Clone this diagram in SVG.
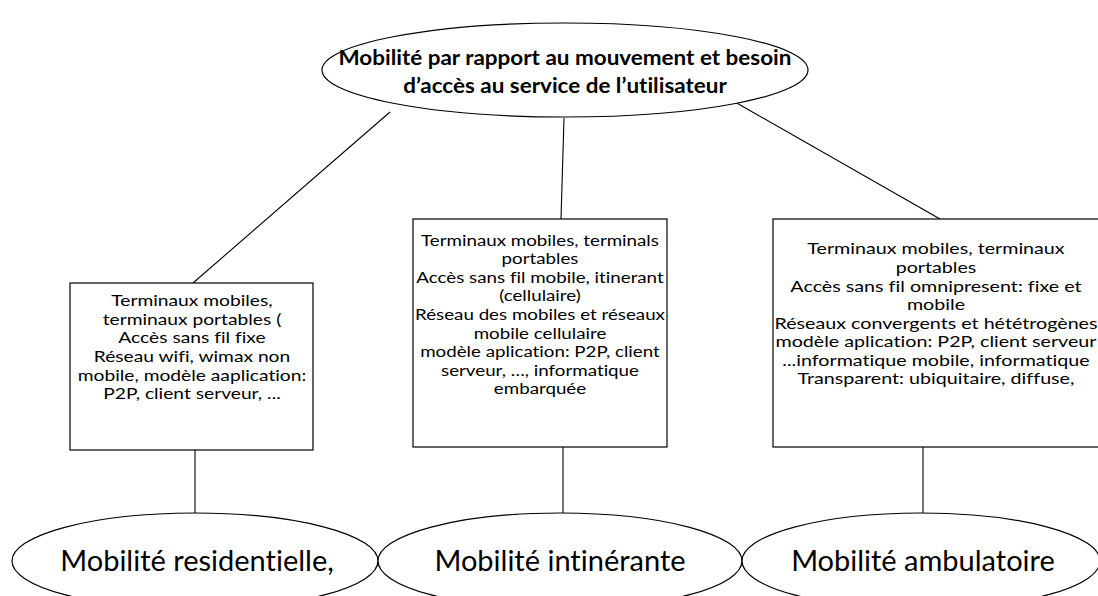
<svg xmlns="http://www.w3.org/2000/svg" width="1098" height="596" viewBox="0 0 1098 596">
<style>
.shape{fill:#fff;stroke:#000;stroke-width:1.2}
.conn line{stroke:#000;stroke-width:1.1}
text{font-variant-ligatures:none}
.t{font-family:Lato,"Open Sans",sans-serif;font-size:15.5px;fill:#000;text-anchor:middle}
.tb{font-family:Lato,"Open Sans",sans-serif;font-size:21px;font-weight:bold;fill:#000;text-anchor:middle}
.tl{font-family:Lato,"Open Sans",sans-serif;font-size:29px;fill:#000;text-anchor:middle}
</style>
<rect width="1098" height="596" fill="#fff"/>
<g id="connectors" class="conn">
<line x1="390" y1="112" x2="193" y2="283"/>
<line x1="564" y1="118" x2="561" y2="219"/>
<line x1="735" y1="102" x2="940" y2="219"/>
<line x1="195" y1="450" x2="195" y2="513"/>
<line x1="563" y1="447" x2="563" y2="513"/>
<line x1="923" y1="447" x2="923" y2="513"/>
</g>
<g id="root">
<ellipse class="shape" cx="565" cy="70" rx="243" ry="47"/>
<g transform="matrix(1.07,0,0,1,-39.55,0)">
<text class="tb" x="565" y="65">Mobilité par rapport au mouvement et besoin</text>
<text class="tb" x="565" y="93">d’accès au service de l’utilisateur</text>
</g>
</g>
<g id="box-left">
<rect class="shape" x="70" y="283" width="243" height="167"/>
<g transform="matrix(1.24,0,0,1,-46.08,0)">
<text class="t" x="192" y="306">Terminaux mobiles,</text>
<text class="t" x="192" y="325">terminaux portables (</text>
<text class="t" x="192" y="343">Accès sans fil fixe</text>
<text class="t" x="192" y="362">Réseau wifi, wimax non</text>
<text class="t" x="192" y="381">mobile, modèle aaplication:</text>
<text class="t" x="192" y="399">P2P, client serveur, ...</text>
</g>
</g>
<g id="box-middle">
<rect class="shape" x="413" y="219" width="254" height="228"/>
<g transform="matrix(1.21,0,0,1,-113.4,0)">
<text class="t" x="540" y="246">Terminaux mobiles, terminals</text>
<text class="t" x="540" y="264">portables</text>
<text class="t" x="540" y="283">Accès sans fil mobile, itinerant</text>
<text class="t" x="540" y="301">(cellulaire)</text>
<text class="t" x="540" y="320">Réseau des mobiles et réseaux</text>
<text class="t" x="540" y="339">mobile cellulaire</text>
<text class="t" x="540" y="357">modèle aplication: P2P, client</text>
<text class="t" x="540" y="376">serveur, …, informatique</text>
<text class="t" x="540" y="394">embarquée</text>
</g>
</g>
<g id="box-right">
<rect class="shape" x="773" y="219" width="340" height="228"/>
<g transform="matrix(1.27,0,0,1,-252.72,0)">
<text class="t" x="936" y="254">Terminaux mobiles, terminaux</text>
<text class="t" x="936" y="273">portables</text>
<text class="t" x="936" y="292">Accès sans fil omnipresent: fixe et</text>
<text class="t" x="936" y="310">mobile</text>
<text class="t" x="936" y="329">Réseaux convergents et hététrogènes</text>
<text class="t" x="936" y="347">modèle aplication: P2P, client serveur</text>
<text class="t" x="936" y="366">...informatique mobile, informatique</text>
<text class="t" x="936" y="384">Transparent: ubiquitaire, diffuse,</text>
</g>
</g>
<g id="leaf-left">
<ellipse class="shape" cx="195" cy="561" rx="183" ry="48"/>
<text class="tl" x="197" y="571">Mobilité residentielle,</text>
</g>
<g id="leaf-middle">
<ellipse class="shape" cx="560" cy="561" rx="182" ry="48"/>
<text class="tl" x="560" y="571">Mobilité intinérante</text>
</g>
<g id="leaf-right">
<ellipse class="shape" cx="921" cy="561" rx="179" ry="48"/>
<text class="tl" x="923" y="571">Mobilité ambulatoire</text>
</g>
</svg>
